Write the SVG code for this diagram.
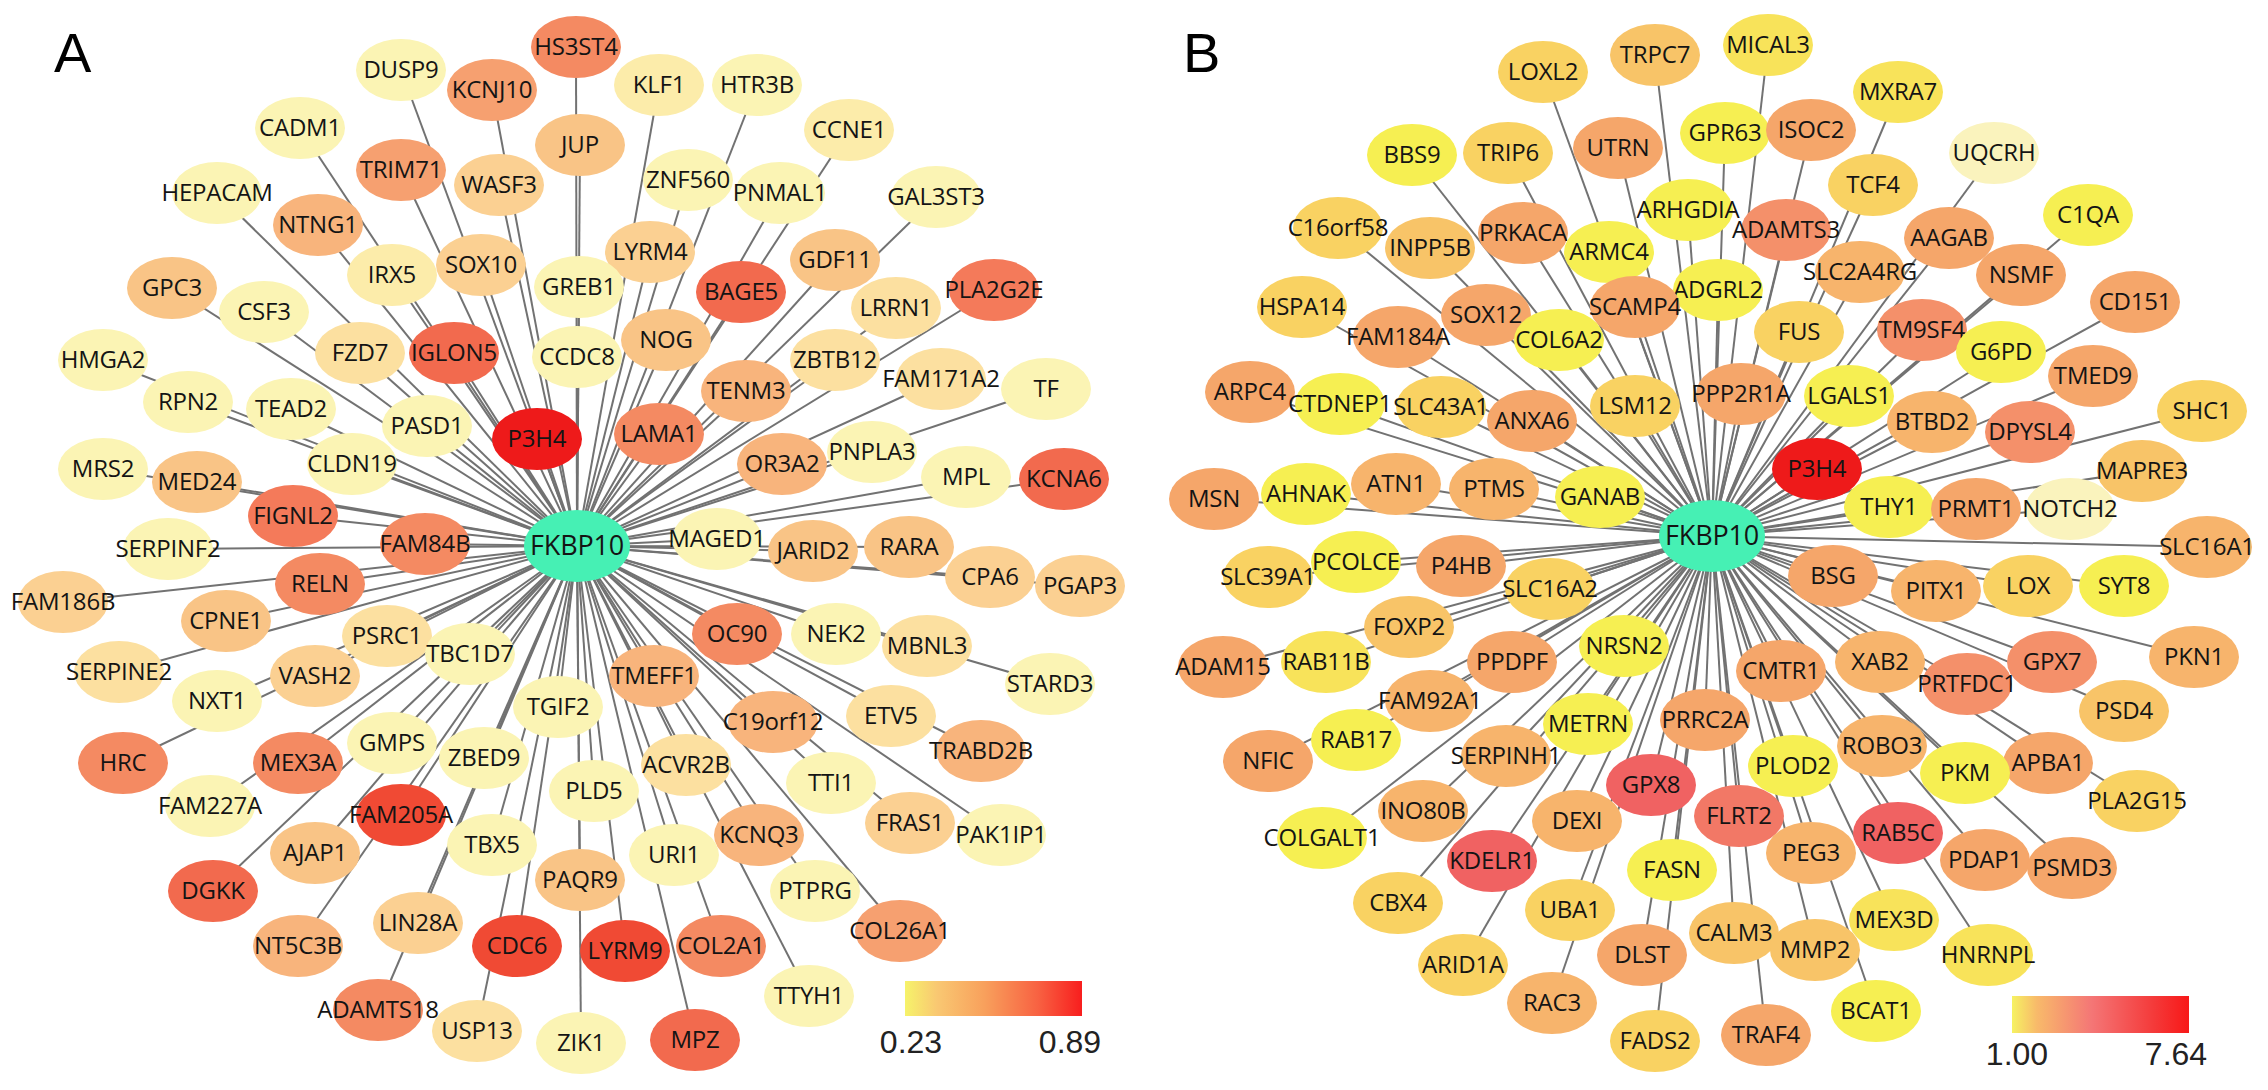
<svg xmlns="http://www.w3.org/2000/svg" width="2268" height="1090" viewBox="0 0 2268 1090">
<defs>
<linearGradient id="gradA" x1="0" y1="0" x2="1" y2="0">
<stop offset="0" stop-color="#f6f36a"/>
<stop offset="0.18" stop-color="#f9c872"/>
<stop offset="0.45" stop-color="#f8a05c"/>
<stop offset="0.75" stop-color="#f86242"/>
<stop offset="1" stop-color="#f81e1e"/>
</linearGradient>
<linearGradient id="gradB" x1="0" y1="0" x2="1" y2="0">
<stop offset="0" stop-color="#f6f262"/>
<stop offset="0.14" stop-color="#f8ba6a"/>
<stop offset="0.45" stop-color="#f47676"/>
<stop offset="0.8" stop-color="#f43a3a"/>
<stop offset="1" stop-color="#f81818"/>
</linearGradient>
</defs>
<style>
.edge line{stroke:#727272;stroke-width:2;}
ellipse{rx:45px;ry:31px;}
ellipse.hub{rx:53px;ry:36px;fill:#46f0b4;}
text{font-family:"Open Sans","Noto Sans",sans-serif;font-size:24px;fill:#141414;text-anchor:middle;letter-spacing:-0.2px;}
text.hubt{font-size:27px;}
text.panel{font-family:"Liberation Sans",Arial,sans-serif;font-size:56px;fill:#000;text-anchor:start;letter-spacing:0;}
text.cb{font-family:"Liberation Sans",Arial,sans-serif;font-size:32px;fill:#222;letter-spacing:0;}
.a0{fill:#fbf4b4}.a1{fill:#fcecaa}.a2{fill:#fce0a0}.a3{fill:#fbd092}.a4{fill:#f9c486}.a5{fill:#f8b47c}.a6{fill:#f6a070}.a7{fill:#f48a62}.a75{fill:#f47a5a}.a8{fill:#f26a4e}.a9{fill:#f04a34}.p3{fill:#ee1a1a}
.b0{fill:#faf3bd}.b1{fill:#f6ef52}.b2{fill:#f8e35a}.b3{fill:#f9d262}.b4{fill:#f8c468}.b5{fill:#f7b46c}.b6{fill:#f5a66a}.b7{fill:#f4906a}.b8{fill:#f06262}.b9{fill:#f27866}
</style>
<rect width="2268" height="1090" fill="#ffffff"/>
<text class="panel" x="54" y="72">A</text>
<text class="panel" x="1183" y="72">B</text>
<g id="edges-A" class="edge">
<line x1="577" y1="546" x2="576" y2="47"/><line x1="577" y1="546" x2="401" y2="70"/><line x1="577" y1="546" x2="492" y2="90"/><line x1="577" y1="546" x2="659" y2="85"/><line x1="577" y1="546" x2="757" y2="85"/><line x1="577" y1="546" x2="300" y2="128"/><line x1="577" y1="546" x2="849" y2="130"/><line x1="577" y1="546" x2="580" y2="145"/><line x1="577" y1="546" x2="401" y2="170"/><line x1="577" y1="546" x2="688" y2="180"/><line x1="577" y1="546" x2="499" y2="185"/><line x1="577" y1="546" x2="217" y2="193"/><line x1="577" y1="546" x2="780" y2="193"/><line x1="577" y1="546" x2="936" y2="197"/><line x1="577" y1="546" x2="318" y2="225"/><line x1="577" y1="546" x2="650" y2="252"/><line x1="577" y1="546" x2="835" y2="260"/><line x1="577" y1="546" x2="481" y2="265"/><line x1="577" y1="546" x2="392" y2="275"/><line x1="577" y1="546" x2="579" y2="287"/><line x1="577" y1="546" x2="172" y2="288"/><line x1="577" y1="546" x2="994" y2="290"/><line x1="577" y1="546" x2="741" y2="292"/><line x1="577" y1="546" x2="896" y2="308"/><line x1="577" y1="546" x2="264" y2="312"/><line x1="577" y1="546" x2="666" y2="340"/><line x1="577" y1="546" x2="360" y2="353"/><line x1="577" y1="546" x2="454" y2="353"/><line x1="577" y1="546" x2="103" y2="360"/><line x1="577" y1="546" x2="577" y2="357"/><line x1="577" y1="546" x2="835" y2="360"/><line x1="577" y1="546" x2="941" y2="379"/><line x1="577" y1="546" x2="1046" y2="389"/><line x1="577" y1="546" x2="746" y2="391"/><line x1="577" y1="546" x2="188" y2="402"/><line x1="577" y1="546" x2="291" y2="409"/><line x1="577" y1="546" x2="427" y2="426"/><line x1="577" y1="546" x2="659" y2="434"/><line x1="577" y1="546" x2="537" y2="439"/><line x1="577" y1="546" x2="872" y2="452"/><line x1="577" y1="546" x2="352" y2="464"/><line x1="577" y1="546" x2="782" y2="464"/><line x1="577" y1="546" x2="103" y2="469"/><line x1="577" y1="546" x2="966" y2="477"/><line x1="577" y1="546" x2="1064" y2="479"/><line x1="577" y1="546" x2="197" y2="482"/><line x1="577" y1="546" x2="293" y2="516"/><line x1="577" y1="546" x2="717" y2="539"/><line x1="577" y1="546" x2="425" y2="544"/><line x1="577" y1="546" x2="909" y2="547"/><line x1="577" y1="546" x2="168" y2="549"/><line x1="577" y1="546" x2="813" y2="551"/><line x1="577" y1="546" x2="990" y2="577"/><line x1="577" y1="546" x2="320" y2="584"/><line x1="577" y1="546" x2="1080" y2="586"/><line x1="577" y1="546" x2="63" y2="602"/><line x1="577" y1="546" x2="226" y2="621"/><line x1="577" y1="546" x2="737" y2="634"/><line x1="577" y1="546" x2="836" y2="634"/><line x1="577" y1="546" x2="387" y2="636"/><line x1="577" y1="546" x2="927" y2="646"/><line x1="577" y1="546" x2="470" y2="654"/><line x1="577" y1="546" x2="119" y2="672"/><line x1="577" y1="546" x2="315" y2="676"/><line x1="577" y1="546" x2="654" y2="676"/><line x1="577" y1="546" x2="1050" y2="684"/><line x1="577" y1="546" x2="217" y2="701"/><line x1="577" y1="546" x2="558" y2="707"/><line x1="577" y1="546" x2="891" y2="716"/><line x1="577" y1="546" x2="773" y2="722"/><line x1="577" y1="546" x2="392" y2="743"/><line x1="577" y1="546" x2="981" y2="751"/><line x1="577" y1="546" x2="484" y2="758"/><line x1="577" y1="546" x2="123" y2="763"/><line x1="577" y1="546" x2="298" y2="763"/><line x1="577" y1="546" x2="686" y2="765"/><line x1="577" y1="546" x2="831" y2="783"/><line x1="577" y1="546" x2="594" y2="791"/><line x1="577" y1="546" x2="210" y2="806"/><line x1="577" y1="546" x2="401" y2="815"/><line x1="577" y1="546" x2="910" y2="823"/><line x1="577" y1="546" x2="759" y2="835"/><line x1="577" y1="546" x2="1001" y2="835"/><line x1="577" y1="546" x2="492" y2="845"/><line x1="577" y1="546" x2="315" y2="853"/><line x1="577" y1="546" x2="674" y2="855"/><line x1="577" y1="546" x2="580" y2="880"/><line x1="577" y1="546" x2="815" y2="891"/><line x1="577" y1="546" x2="213" y2="891"/><line x1="577" y1="546" x2="418" y2="923"/><line x1="577" y1="546" x2="900" y2="931"/><line x1="577" y1="546" x2="298" y2="946"/><line x1="577" y1="546" x2="517" y2="946"/><line x1="577" y1="546" x2="721" y2="946"/><line x1="577" y1="546" x2="625" y2="951"/><line x1="577" y1="546" x2="809" y2="996"/><line x1="577" y1="546" x2="378" y2="1010"/><line x1="577" y1="546" x2="477" y2="1031"/><line x1="577" y1="546" x2="695" y2="1040"/><line x1="577" y1="546" x2="581" y2="1043"/>
</g>
<g id="edges-B" class="edge">
<line x1="1712" y1="536" x2="1543" y2="72"/><line x1="1712" y1="536" x2="1655" y2="55"/><line x1="1712" y1="536" x2="1768" y2="45"/><line x1="1712" y1="536" x2="1898" y2="92"/><line x1="1712" y1="536" x2="1725" y2="133"/><line x1="1712" y1="536" x2="1811" y2="130"/><line x1="1712" y1="536" x2="1412" y2="155"/><line x1="1712" y1="536" x2="1508" y2="153"/><line x1="1712" y1="536" x2="1618" y2="148"/><line x1="1712" y1="536" x2="1994" y2="153"/><line x1="1712" y1="536" x2="1873" y2="185"/><line x1="1712" y1="536" x2="1688" y2="210"/><line x1="1712" y1="536" x2="2088" y2="215"/><line x1="1712" y1="536" x2="1338" y2="228"/><line x1="1712" y1="536" x2="1786" y2="230"/><line x1="1712" y1="536" x2="1523" y2="233"/><line x1="1712" y1="536" x2="1949" y2="238"/><line x1="1712" y1="536" x2="1430" y2="248"/><line x1="1712" y1="536" x2="1609" y2="252"/><line x1="1712" y1="536" x2="1860" y2="272"/><line x1="1712" y1="536" x2="2021" y2="275"/><line x1="1712" y1="536" x2="1718" y2="290"/><line x1="1712" y1="536" x2="2135" y2="302"/><line x1="1712" y1="536" x2="1302" y2="307"/><line x1="1712" y1="536" x2="1635" y2="307"/><line x1="1712" y1="536" x2="1486" y2="315"/><line x1="1712" y1="536" x2="1922" y2="330"/><line x1="1712" y1="536" x2="1799" y2="332"/><line x1="1712" y1="536" x2="1398" y2="337"/><line x1="1712" y1="536" x2="1559" y2="340"/><line x1="1712" y1="536" x2="2001" y2="352"/><line x1="1712" y1="536" x2="2093" y2="376"/><line x1="1712" y1="536" x2="1250" y2="392"/><line x1="1712" y1="536" x2="1741" y2="394"/><line x1="1712" y1="536" x2="1849" y2="396"/><line x1="1712" y1="536" x2="1340" y2="404"/><line x1="1712" y1="536" x2="1635" y2="406"/><line x1="1712" y1="536" x2="1441" y2="407"/><line x1="1712" y1="536" x2="2202" y2="411"/><line x1="1712" y1="536" x2="1532" y2="421"/><line x1="1712" y1="536" x2="1932" y2="422"/><line x1="1712" y1="536" x2="2030" y2="432"/><line x1="1712" y1="536" x2="1817" y2="469"/><line x1="1712" y1="536" x2="2142" y2="471"/><line x1="1712" y1="536" x2="1396" y2="484"/><line x1="1712" y1="536" x2="1494" y2="489"/><line x1="1712" y1="536" x2="1306" y2="494"/><line x1="1712" y1="536" x2="1600" y2="497"/><line x1="1712" y1="536" x2="1214" y2="499"/><line x1="1712" y1="536" x2="1889" y2="507"/><line x1="1712" y1="536" x2="1976" y2="509"/><line x1="1712" y1="536" x2="2070" y2="509"/><line x1="1712" y1="536" x2="2207" y2="547"/><line x1="1712" y1="536" x2="1356" y2="562"/><line x1="1712" y1="536" x2="1461" y2="566"/><line x1="1712" y1="536" x2="1833" y2="576"/><line x1="1712" y1="536" x2="1268" y2="577"/><line x1="1712" y1="536" x2="2028" y2="586"/><line x1="1712" y1="536" x2="2124" y2="586"/><line x1="1712" y1="536" x2="1550" y2="589"/><line x1="1712" y1="536" x2="1936" y2="591"/><line x1="1712" y1="536" x2="1409" y2="627"/><line x1="1712" y1="536" x2="1624" y2="646"/><line x1="1712" y1="536" x2="2194" y2="657"/><line x1="1712" y1="536" x2="1326" y2="662"/><line x1="1712" y1="536" x2="1512" y2="662"/><line x1="1712" y1="536" x2="1880" y2="662"/><line x1="1712" y1="536" x2="2052" y2="662"/><line x1="1712" y1="536" x2="1223" y2="667"/><line x1="1712" y1="536" x2="1781" y2="671"/><line x1="1712" y1="536" x2="1967" y2="684"/><line x1="1712" y1="536" x2="1430" y2="701"/><line x1="1712" y1="536" x2="2124" y2="711"/><line x1="1712" y1="536" x2="1705" y2="720"/><line x1="1712" y1="536" x2="1588" y2="724"/><line x1="1712" y1="536" x2="1356" y2="740"/><line x1="1712" y1="536" x2="1882" y2="746"/><line x1="1712" y1="536" x2="1506" y2="756"/><line x1="1712" y1="536" x2="1268" y2="761"/><line x1="1712" y1="536" x2="2048" y2="763"/><line x1="1712" y1="536" x2="1793" y2="766"/><line x1="1712" y1="536" x2="1965" y2="773"/><line x1="1712" y1="536" x2="1651" y2="785"/><line x1="1712" y1="536" x2="2137" y2="801"/><line x1="1712" y1="536" x2="1423" y2="811"/><line x1="1712" y1="536" x2="1739" y2="816"/><line x1="1712" y1="536" x2="1577" y2="821"/><line x1="1712" y1="536" x2="1898" y2="833"/><line x1="1712" y1="536" x2="1322" y2="838"/><line x1="1712" y1="536" x2="1811" y2="853"/><line x1="1712" y1="536" x2="1985" y2="860"/><line x1="1712" y1="536" x2="1492" y2="861"/><line x1="1712" y1="536" x2="2072" y2="868"/><line x1="1712" y1="536" x2="1672" y2="870"/><line x1="1712" y1="536" x2="1398" y2="903"/><line x1="1712" y1="536" x2="1570" y2="910"/><line x1="1712" y1="536" x2="1894" y2="920"/><line x1="1712" y1="536" x2="1734" y2="933"/><line x1="1712" y1="536" x2="1815" y2="950"/><line x1="1712" y1="536" x2="1642" y2="955"/><line x1="1712" y1="536" x2="1988" y2="955"/><line x1="1712" y1="536" x2="1463" y2="965"/><line x1="1712" y1="536" x2="1552" y2="1003"/><line x1="1712" y1="536" x2="1876" y2="1011"/><line x1="1712" y1="536" x2="1766" y2="1035"/><line x1="1712" y1="536" x2="1655" y2="1041"/>
</g>
<g id="nodes-A">
<g id="a-HS3ST4"><ellipse class="a7" cx="576" cy="47" rx="45" ry="31"/><text x="576" y="55">HS3ST4</text></g>
<g id="a-DUSP9"><ellipse class="a0" cx="401" cy="70" rx="45" ry="31"/><text x="401" y="78">DUSP9</text></g>
<g id="a-KCNJ10"><ellipse class="a6" cx="492" cy="90" rx="45" ry="31"/><text x="492" y="98">KCNJ10</text></g>
<g id="a-KLF1"><ellipse class="a1" cx="659" cy="85" rx="45" ry="31"/><text x="659" y="93">KLF1</text></g>
<g id="a-HTR3B"><ellipse class="a0" cx="757" cy="85" rx="45" ry="31"/><text x="757" y="93">HTR3B</text></g>
<g id="a-CADM1"><ellipse class="a0" cx="300" cy="128" rx="45" ry="31"/><text x="300" y="136">CADM1</text></g>
<g id="a-CCNE1"><ellipse class="a1" cx="849" cy="130" rx="45" ry="31"/><text x="849" y="138">CCNE1</text></g>
<g id="a-JUP"><ellipse class="a4" cx="580" cy="145" rx="45" ry="31"/><text x="580" y="153">JUP</text></g>
<g id="a-TRIM71"><ellipse class="a6" cx="401" cy="170" rx="45" ry="31"/><text x="401" y="178">TRIM71</text></g>
<g id="a-ZNF560"><ellipse class="a0" cx="688" cy="180" rx="45" ry="31"/><text x="688" y="188">ZNF560</text></g>
<g id="a-WASF3"><ellipse class="a3" cx="499" cy="185" rx="45" ry="31"/><text x="499" y="193">WASF3</text></g>
<g id="a-HEPACAM"><ellipse class="a0" cx="217" cy="193" rx="45" ry="31"/><text x="217" y="201">HEPACAM</text></g>
<g id="a-PNMAL1"><ellipse class="a0" cx="780" cy="193" rx="45" ry="31"/><text x="780" y="201">PNMAL1</text></g>
<g id="a-GAL3ST3"><ellipse class="a0" cx="936" cy="197" rx="45" ry="31"/><text x="936" y="205">GAL3ST3</text></g>
<g id="a-NTNG1"><ellipse class="a5" cx="318" cy="225" rx="45" ry="31"/><text x="318" y="233">NTNG1</text></g>
<g id="a-LYRM4"><ellipse class="a3" cx="650" cy="252" rx="45" ry="31"/><text x="650" y="260">LYRM4</text></g>
<g id="a-GDF11"><ellipse class="a4" cx="835" cy="260" rx="45" ry="31"/><text x="835" y="268">GDF11</text></g>
<g id="a-SOX10"><ellipse class="a3" cx="481" cy="265" rx="45" ry="31"/><text x="481" y="273">SOX10</text></g>
<g id="a-IRX5"><ellipse class="a1" cx="392" cy="275" rx="45" ry="31"/><text x="392" y="283">IRX5</text></g>
<g id="a-GREB1"><ellipse class="a0" cx="579" cy="287" rx="45" ry="31"/><text x="579" y="295">GREB1</text></g>
<g id="a-GPC3"><ellipse class="a4" cx="172" cy="288" rx="45" ry="31"/><text x="172" y="296">GPC3</text></g>
<g id="a-PLA2G2E"><ellipse class="a75" cx="994" cy="290" rx="45" ry="31"/><text x="994" y="298">PLA2G2E</text></g>
<g id="a-BAGE5"><ellipse class="a8" cx="741" cy="292" rx="45" ry="31"/><text x="741" y="300">BAGE5</text></g>
<g id="a-LRRN1"><ellipse class="a2" cx="896" cy="308" rx="45" ry="31"/><text x="896" y="316">LRRN1</text></g>
<g id="a-CSF3"><ellipse class="a0" cx="264" cy="312" rx="45" ry="31"/><text x="264" y="320">CSF3</text></g>
<g id="a-NOG"><ellipse class="a4" cx="666" cy="340" rx="45" ry="31"/><text x="666" y="348">NOG</text></g>
<g id="a-FZD7"><ellipse class="a2" cx="360" cy="353" rx="45" ry="31"/><text x="360" y="361">FZD7</text></g>
<g id="a-IGLON5"><ellipse class="a8" cx="454" cy="353" rx="45" ry="31"/><text x="454" y="361">IGLON5</text></g>
<g id="a-HMGA2"><ellipse class="a0" cx="103" cy="360" rx="45" ry="31"/><text x="103" y="368">HMGA2</text></g>
<g id="a-CCDC8"><ellipse class="a0" cx="577" cy="357" rx="45" ry="31"/><text x="577" y="365">CCDC8</text></g>
<g id="a-ZBTB12"><ellipse class="a2" cx="835" cy="360" rx="45" ry="31"/><text x="835" y="368">ZBTB12</text></g>
<g id="a-FAM171A2"><ellipse class="a2" cx="941" cy="379" rx="45" ry="31"/><text x="941" y="387">FAM171A2</text></g>
<g id="a-TF"><ellipse class="a0" cx="1046" cy="389" rx="45" ry="31"/><text x="1046" y="397">TF</text></g>
<g id="a-TENM3"><ellipse class="a5" cx="746" cy="391" rx="45" ry="31"/><text x="746" y="399">TENM3</text></g>
<g id="a-RPN2"><ellipse class="a0" cx="188" cy="402" rx="45" ry="31"/><text x="188" y="410">RPN2</text></g>
<g id="a-TEAD2"><ellipse class="a0" cx="291" cy="409" rx="45" ry="31"/><text x="291" y="417">TEAD2</text></g>
<g id="a-PASD1"><ellipse class="a0" cx="427" cy="426" rx="45" ry="31"/><text x="427" y="434">PASD1</text></g>
<g id="a-LAMA1"><ellipse class="a7" cx="659" cy="434" rx="45" ry="31"/><text x="659" y="442">LAMA1</text></g>
<g id="a-P3H4"><ellipse class="p3" cx="537" cy="439" rx="45" ry="31"/><text x="537" y="447">P3H4</text></g>
<g id="a-PNPLA3"><ellipse class="a0" cx="872" cy="452" rx="45" ry="31"/><text x="872" y="460">PNPLA3</text></g>
<g id="a-CLDN19"><ellipse class="a0" cx="352" cy="464" rx="45" ry="31"/><text x="352" y="472">CLDN19</text></g>
<g id="a-OR3A2"><ellipse class="a5" cx="782" cy="464" rx="45" ry="31"/><text x="782" y="472">OR3A2</text></g>
<g id="a-MRS2"><ellipse class="a0" cx="103" cy="469" rx="45" ry="31"/><text x="103" y="477">MRS2</text></g>
<g id="a-MPL"><ellipse class="a0" cx="966" cy="477" rx="45" ry="31"/><text x="966" y="485">MPL</text></g>
<g id="a-KCNA6"><ellipse class="a8" cx="1064" cy="479" rx="45" ry="31"/><text x="1064" y="487">KCNA6</text></g>
<g id="a-MED24"><ellipse class="a4" cx="197" cy="482" rx="45" ry="31"/><text x="197" y="490">MED24</text></g>
<g id="a-FIGNL2"><ellipse class="a75" cx="293" cy="516" rx="45" ry="31"/><text x="293" y="524">FIGNL2</text></g>
<g id="a-MAGED1"><ellipse class="a0" cx="717" cy="539" rx="45" ry="31"/><text x="717" y="547">MAGED1</text></g>
<g id="a-FAM84B"><ellipse class="a7" cx="425" cy="544" rx="45" ry="31"/><text x="425" y="552">FAM84B</text></g>
<g id="a-RARA"><ellipse class="a4" cx="909" cy="547" rx="45" ry="31"/><text x="909" y="555">RARA</text></g>
<g id="a-SERPINF2"><ellipse class="a0" cx="168" cy="549" rx="45" ry="31"/><text x="168" y="557">SERPINF2</text></g>
<g id="a-JARID2"><ellipse class="a4" cx="813" cy="551" rx="45" ry="31"/><text x="813" y="559">JARID2</text></g>
<g id="a-CPA6"><ellipse class="a3" cx="990" cy="577" rx="45" ry="31"/><text x="990" y="585">CPA6</text></g>
<g id="a-RELN"><ellipse class="a7" cx="320" cy="584" rx="45" ry="31"/><text x="320" y="592">RELN</text></g>
<g id="a-PGAP3"><ellipse class="a3" cx="1080" cy="586" rx="45" ry="31"/><text x="1080" y="594">PGAP3</text></g>
<g id="a-FAM186B"><ellipse class="a3" cx="63" cy="602" rx="45" ry="31"/><text x="63" y="610">FAM186B</text></g>
<g id="a-CPNE1"><ellipse class="a4" cx="226" cy="621" rx="45" ry="31"/><text x="226" y="629">CPNE1</text></g>
<g id="a-OC90"><ellipse class="a7" cx="737" cy="634" rx="45" ry="31"/><text x="737" y="642">OC90</text></g>
<g id="a-NEK2"><ellipse class="a0" cx="836" cy="634" rx="45" ry="31"/><text x="836" y="642">NEK2</text></g>
<g id="a-PSRC1"><ellipse class="a2" cx="387" cy="636" rx="45" ry="31"/><text x="387" y="644">PSRC1</text></g>
<g id="a-MBNL3"><ellipse class="a2" cx="927" cy="646" rx="45" ry="31"/><text x="927" y="654">MBNL3</text></g>
<g id="a-TBC1D7"><ellipse class="a0" cx="470" cy="654" rx="45" ry="31"/><text x="470" y="662">TBC1D7</text></g>
<g id="a-SERPINE2"><ellipse class="a2" cx="119" cy="672" rx="45" ry="31"/><text x="119" y="680">SERPINE2</text></g>
<g id="a-VASH2"><ellipse class="a3" cx="315" cy="676" rx="45" ry="31"/><text x="315" y="684">VASH2</text></g>
<g id="a-TMEFF1"><ellipse class="a5" cx="654" cy="676" rx="45" ry="31"/><text x="654" y="684">TMEFF1</text></g>
<g id="a-STARD3"><ellipse class="a0" cx="1050" cy="684" rx="45" ry="31"/><text x="1050" y="692">STARD3</text></g>
<g id="a-NXT1"><ellipse class="a0" cx="217" cy="701" rx="45" ry="31"/><text x="217" y="709">NXT1</text></g>
<g id="a-TGIF2"><ellipse class="a0" cx="558" cy="707" rx="45" ry="31"/><text x="558" y="715">TGIF2</text></g>
<g id="a-ETV5"><ellipse class="a2" cx="891" cy="716" rx="45" ry="31"/><text x="891" y="724">ETV5</text></g>
<g id="a-C19orf12"><ellipse class="a5" cx="773" cy="722" rx="45" ry="31"/><text x="773" y="730">C19orf12</text></g>
<g id="a-GMPS"><ellipse class="a0" cx="392" cy="743" rx="45" ry="31"/><text x="392" y="751">GMPS</text></g>
<g id="a-TRABD2B"><ellipse class="a5" cx="981" cy="751" rx="45" ry="31"/><text x="981" y="759">TRABD2B</text></g>
<g id="a-ZBED9"><ellipse class="a0" cx="484" cy="758" rx="45" ry="31"/><text x="484" y="766">ZBED9</text></g>
<g id="a-HRC"><ellipse class="a7" cx="123" cy="763" rx="45" ry="31"/><text x="123" y="771">HRC</text></g>
<g id="a-MEX3A"><ellipse class="a7" cx="298" cy="763" rx="45" ry="31"/><text x="298" y="771">MEX3A</text></g>
<g id="a-ACVR2B"><ellipse class="a2" cx="686" cy="765" rx="45" ry="31"/><text x="686" y="773">ACVR2B</text></g>
<g id="a-TTI1"><ellipse class="a0" cx="831" cy="783" rx="45" ry="31"/><text x="831" y="791">TTI1</text></g>
<g id="a-PLD5"><ellipse class="a0" cx="594" cy="791" rx="45" ry="31"/><text x="594" y="799">PLD5</text></g>
<g id="a-FAM227A"><ellipse class="a0" cx="210" cy="806" rx="45" ry="31"/><text x="210" y="814">FAM227A</text></g>
<g id="a-FAM205A"><ellipse class="a9" cx="401" cy="815" rx="45" ry="31"/><text x="401" y="823">FAM205A</text></g>
<g id="a-FRAS1"><ellipse class="a3" cx="910" cy="823" rx="45" ry="31"/><text x="910" y="831">FRAS1</text></g>
<g id="a-KCNQ3"><ellipse class="a5" cx="759" cy="835" rx="45" ry="31"/><text x="759" y="843">KCNQ3</text></g>
<g id="a-PAK1IP1"><ellipse class="a0" cx="1001" cy="835" rx="45" ry="31"/><text x="1001" y="843">PAK1IP1</text></g>
<g id="a-TBX5"><ellipse class="a0" cx="492" cy="845" rx="45" ry="31"/><text x="492" y="853">TBX5</text></g>
<g id="a-AJAP1"><ellipse class="a4" cx="315" cy="853" rx="45" ry="31"/><text x="315" y="861">AJAP1</text></g>
<g id="a-URI1"><ellipse class="a0" cx="674" cy="855" rx="45" ry="31"/><text x="674" y="863">URI1</text></g>
<g id="a-PAQR9"><ellipse class="a4" cx="580" cy="880" rx="45" ry="31"/><text x="580" y="888">PAQR9</text></g>
<g id="a-PTPRG"><ellipse class="a0" cx="815" cy="891" rx="45" ry="31"/><text x="815" y="899">PTPRG</text></g>
<g id="a-DGKK"><ellipse class="a8" cx="213" cy="891" rx="45" ry="31"/><text x="213" y="899">DGKK</text></g>
<g id="a-LIN28A"><ellipse class="a3" cx="418" cy="923" rx="45" ry="31"/><text x="418" y="931">LIN28A</text></g>
<g id="a-COL26A1"><ellipse class="a6" cx="900" cy="931" rx="45" ry="31"/><text x="900" y="939">COL26A1</text></g>
<g id="a-NT5C3B"><ellipse class="a5" cx="298" cy="946" rx="45" ry="31"/><text x="298" y="954">NT5C3B</text></g>
<g id="a-CDC6"><ellipse class="a9" cx="517" cy="946" rx="45" ry="31"/><text x="517" y="954">CDC6</text></g>
<g id="a-COL2A1"><ellipse class="a7" cx="721" cy="946" rx="45" ry="31"/><text x="721" y="954">COL2A1</text></g>
<g id="a-LYRM9"><ellipse class="a9" cx="625" cy="951" rx="45" ry="31"/><text x="625" y="959">LYRM9</text></g>
<g id="a-TTYH1"><ellipse class="a0" cx="809" cy="996" rx="45" ry="31"/><text x="809" y="1004">TTYH1</text></g>
<g id="a-ADAMTS18"><ellipse class="a7" cx="378" cy="1010" rx="45" ry="31"/><text x="378" y="1018">ADAMTS18</text></g>
<g id="a-USP13"><ellipse class="a2" cx="477" cy="1031" rx="45" ry="31"/><text x="477" y="1039">USP13</text></g>
<g id="a-MPZ"><ellipse class="a8" cx="695" cy="1040" rx="45" ry="31"/><text x="695" y="1048">MPZ</text></g>
<g id="a-ZIK1"><ellipse class="a0" cx="581" cy="1043" rx="45" ry="31"/><text x="581" y="1051">ZIK1</text></g>
<g id="a-FKBP10"><ellipse class="hub" cx="577" cy="546" rx="53" ry="36"/><text class="hubt" x="577" y="555">FKBP10</text></g>
</g>
<g id="nodes-B">
<g id="b-LOXL2"><ellipse class="b3" cx="1543" cy="72" rx="45" ry="31"/><text x="1543" y="80">LOXL2</text></g>
<g id="b-TRPC7"><ellipse class="b4" cx="1655" cy="55" rx="45" ry="31"/><text x="1655" y="63">TRPC7</text></g>
<g id="b-MICAL3"><ellipse class="b2" cx="1768" cy="45" rx="45" ry="31"/><text x="1768" y="53">MICAL3</text></g>
<g id="b-MXRA7"><ellipse class="b2" cx="1898" cy="92" rx="45" ry="31"/><text x="1898" y="100">MXRA7</text></g>
<g id="b-GPR63"><ellipse class="b1" cx="1725" cy="133" rx="45" ry="31"/><text x="1725" y="141">GPR63</text></g>
<g id="b-ISOC2"><ellipse class="b6" cx="1811" cy="130" rx="45" ry="31"/><text x="1811" y="138">ISOC2</text></g>
<g id="b-BBS9"><ellipse class="b1" cx="1412" cy="155" rx="45" ry="31"/><text x="1412" y="163">BBS9</text></g>
<g id="b-TRIP6"><ellipse class="b3" cx="1508" cy="153" rx="45" ry="31"/><text x="1508" y="161">TRIP6</text></g>
<g id="b-UTRN"><ellipse class="b6" cx="1618" cy="148" rx="45" ry="31"/><text x="1618" y="156">UTRN</text></g>
<g id="b-UQCRH"><ellipse class="b0" cx="1994" cy="153" rx="45" ry="31"/><text x="1994" y="161">UQCRH</text></g>
<g id="b-TCF4"><ellipse class="b3" cx="1873" cy="185" rx="45" ry="31"/><text x="1873" y="193">TCF4</text></g>
<g id="b-ARHGDIA"><ellipse class="b1" cx="1688" cy="210" rx="45" ry="31"/><text x="1688" y="218">ARHGDIA</text></g>
<g id="b-C1QA"><ellipse class="b1" cx="2088" cy="215" rx="45" ry="31"/><text x="2088" y="223">C1QA</text></g>
<g id="b-C16orf58"><ellipse class="b3" cx="1338" cy="228" rx="45" ry="31"/><text x="1338" y="236">C16orf58</text></g>
<g id="b-ADAMTS3"><ellipse class="b7" cx="1786" cy="230" rx="45" ry="31"/><text x="1786" y="238">ADAMTS3</text></g>
<g id="b-PRKACA"><ellipse class="b6" cx="1523" cy="233" rx="45" ry="31"/><text x="1523" y="241">PRKACA</text></g>
<g id="b-AAGAB"><ellipse class="b6" cx="1949" cy="238" rx="45" ry="31"/><text x="1949" y="246">AAGAB</text></g>
<g id="b-INPP5B"><ellipse class="b4" cx="1430" cy="248" rx="45" ry="31"/><text x="1430" y="256">INPP5B</text></g>
<g id="b-ARMC4"><ellipse class="b1" cx="1609" cy="252" rx="45" ry="31"/><text x="1609" y="260">ARMC4</text></g>
<g id="b-SLC2A4RG"><ellipse class="b5" cx="1860" cy="272" rx="45" ry="31"/><text x="1860" y="280">SLC2A4RG</text></g>
<g id="b-NSMF"><ellipse class="b6" cx="2021" cy="275" rx="45" ry="31"/><text x="2021" y="283">NSMF</text></g>
<g id="b-ADGRL2"><ellipse class="b1" cx="1718" cy="290" rx="45" ry="31"/><text x="1718" y="298">ADGRL2</text></g>
<g id="b-CD151"><ellipse class="b6" cx="2135" cy="302" rx="45" ry="31"/><text x="2135" y="310">CD151</text></g>
<g id="b-HSPA14"><ellipse class="b3" cx="1302" cy="307" rx="45" ry="31"/><text x="1302" y="315">HSPA14</text></g>
<g id="b-SCAMP4"><ellipse class="b6" cx="1635" cy="307" rx="45" ry="31"/><text x="1635" y="315">SCAMP4</text></g>
<g id="b-SOX12"><ellipse class="b6" cx="1486" cy="315" rx="45" ry="31"/><text x="1486" y="323">SOX12</text></g>
<g id="b-TM9SF4"><ellipse class="b7" cx="1922" cy="330" rx="45" ry="31"/><text x="1922" y="338">TM9SF4</text></g>
<g id="b-FUS"><ellipse class="b3" cx="1799" cy="332" rx="45" ry="31"/><text x="1799" y="340">FUS</text></g>
<g id="b-FAM184A"><ellipse class="b6" cx="1398" cy="337" rx="45" ry="31"/><text x="1398" y="345">FAM184A</text></g>
<g id="b-COL6A2"><ellipse class="b1" cx="1559" cy="340" rx="45" ry="31"/><text x="1559" y="348">COL6A2</text></g>
<g id="b-G6PD"><ellipse class="b1" cx="2001" cy="352" rx="45" ry="31"/><text x="2001" y="360">G6PD</text></g>
<g id="b-TMED9"><ellipse class="b6" cx="2093" cy="376" rx="45" ry="31"/><text x="2093" y="384">TMED9</text></g>
<g id="b-ARPC4"><ellipse class="b6" cx="1250" cy="392" rx="45" ry="31"/><text x="1250" y="400">ARPC4</text></g>
<g id="b-PPP2R1A"><ellipse class="b6" cx="1741" cy="394" rx="45" ry="31"/><text x="1741" y="402">PPP2R1A</text></g>
<g id="b-LGALS1"><ellipse class="b1" cx="1849" cy="396" rx="45" ry="31"/><text x="1849" y="404">LGALS1</text></g>
<g id="b-CTDNEP1"><ellipse class="b1" cx="1340" cy="404" rx="45" ry="31"/><text x="1340" y="412">CTDNEP1</text></g>
<g id="b-LSM12"><ellipse class="b3" cx="1635" cy="406" rx="45" ry="31"/><text x="1635" y="414">LSM12</text></g>
<g id="b-SLC43A1"><ellipse class="b3" cx="1441" cy="407" rx="45" ry="31"/><text x="1441" y="415">SLC43A1</text></g>
<g id="b-SHC1"><ellipse class="b3" cx="2202" cy="411" rx="45" ry="31"/><text x="2202" y="419">SHC1</text></g>
<g id="b-ANXA6"><ellipse class="b6" cx="1532" cy="421" rx="45" ry="31"/><text x="1532" y="429">ANXA6</text></g>
<g id="b-BTBD2"><ellipse class="b5" cx="1932" cy="422" rx="45" ry="31"/><text x="1932" y="430">BTBD2</text></g>
<g id="b-DPYSL4"><ellipse class="b7" cx="2030" cy="432" rx="45" ry="31"/><text x="2030" y="440">DPYSL4</text></g>
<g id="b-P3H4"><ellipse class="p3" cx="1817" cy="469" rx="45" ry="31"/><text x="1817" y="477">P3H4</text></g>
<g id="b-MAPRE3"><ellipse class="b4" cx="2142" cy="471" rx="45" ry="31"/><text x="2142" y="479">MAPRE3</text></g>
<g id="b-ATN1"><ellipse class="b5" cx="1396" cy="484" rx="45" ry="31"/><text x="1396" y="492">ATN1</text></g>
<g id="b-PTMS"><ellipse class="b5" cx="1494" cy="489" rx="45" ry="31"/><text x="1494" y="497">PTMS</text></g>
<g id="b-AHNAK"><ellipse class="b1" cx="1306" cy="494" rx="45" ry="31"/><text x="1306" y="502">AHNAK</text></g>
<g id="b-GANAB"><ellipse class="b1" cx="1600" cy="497" rx="45" ry="31"/><text x="1600" y="505">GANAB</text></g>
<g id="b-MSN"><ellipse class="b6" cx="1214" cy="499" rx="45" ry="31"/><text x="1214" y="507">MSN</text></g>
<g id="b-THY1"><ellipse class="b1" cx="1889" cy="507" rx="45" ry="31"/><text x="1889" y="515">THY1</text></g>
<g id="b-PRMT1"><ellipse class="b6" cx="1976" cy="509" rx="45" ry="31"/><text x="1976" y="517">PRMT1</text></g>
<g id="b-NOTCH2"><ellipse class="b0" cx="2070" cy="509" rx="45" ry="31"/><text x="2070" y="517">NOTCH2</text></g>
<g id="b-SLC16A1"><ellipse class="b5" cx="2207" cy="547" rx="45" ry="31"/><text x="2207" y="555">SLC16A1</text></g>
<g id="b-PCOLCE"><ellipse class="b1" cx="1356" cy="562" rx="45" ry="31"/><text x="1356" y="570">PCOLCE</text></g>
<g id="b-P4HB"><ellipse class="b6" cx="1461" cy="566" rx="45" ry="31"/><text x="1461" y="574">P4HB</text></g>
<g id="b-BSG"><ellipse class="b6" cx="1833" cy="576" rx="45" ry="31"/><text x="1833" y="584">BSG</text></g>
<g id="b-SLC39A1"><ellipse class="b3" cx="1268" cy="577" rx="45" ry="31"/><text x="1268" y="585">SLC39A1</text></g>
<g id="b-LOX"><ellipse class="b3" cx="2028" cy="586" rx="45" ry="31"/><text x="2028" y="594">LOX</text></g>
<g id="b-SYT8"><ellipse class="b1" cx="2124" cy="586" rx="45" ry="31"/><text x="2124" y="594">SYT8</text></g>
<g id="b-SLC16A2"><ellipse class="b3" cx="1550" cy="589" rx="45" ry="31"/><text x="1550" y="597">SLC16A2</text></g>
<g id="b-PITX1"><ellipse class="b5" cx="1936" cy="591" rx="45" ry="31"/><text x="1936" y="599">PITX1</text></g>
<g id="b-FOXP2"><ellipse class="b4" cx="1409" cy="627" rx="45" ry="31"/><text x="1409" y="635">FOXP2</text></g>
<g id="b-NRSN2"><ellipse class="b1" cx="1624" cy="646" rx="45" ry="31"/><text x="1624" y="654">NRSN2</text></g>
<g id="b-PKN1"><ellipse class="b5" cx="2194" cy="657" rx="45" ry="31"/><text x="2194" y="665">PKN1</text></g>
<g id="b-RAB11B"><ellipse class="b2" cx="1326" cy="662" rx="45" ry="31"/><text x="1326" y="670">RAB11B</text></g>
<g id="b-PPDPF"><ellipse class="b6" cx="1512" cy="662" rx="45" ry="31"/><text x="1512" y="670">PPDPF</text></g>
<g id="b-XAB2"><ellipse class="b5" cx="1880" cy="662" rx="45" ry="31"/><text x="1880" y="670">XAB2</text></g>
<g id="b-GPX7"><ellipse class="b7" cx="2052" cy="662" rx="45" ry="31"/><text x="2052" y="670">GPX7</text></g>
<g id="b-ADAM15"><ellipse class="b6" cx="1223" cy="667" rx="45" ry="31"/><text x="1223" y="675">ADAM15</text></g>
<g id="b-CMTR1"><ellipse class="b6" cx="1781" cy="671" rx="45" ry="31"/><text x="1781" y="679">CMTR1</text></g>
<g id="b-PRTFDC1"><ellipse class="b7" cx="1967" cy="684" rx="45" ry="31"/><text x="1967" y="692">PRTFDC1</text></g>
<g id="b-FAM92A1"><ellipse class="b5" cx="1430" cy="701" rx="45" ry="31"/><text x="1430" y="709">FAM92A1</text></g>
<g id="b-PSD4"><ellipse class="b4" cx="2124" cy="711" rx="45" ry="31"/><text x="2124" y="719">PSD4</text></g>
<g id="b-PRRC2A"><ellipse class="b6" cx="1705" cy="720" rx="45" ry="31"/><text x="1705" y="728">PRRC2A</text></g>
<g id="b-METRN"><ellipse class="b1" cx="1588" cy="724" rx="45" ry="31"/><text x="1588" y="732">METRN</text></g>
<g id="b-RAB17"><ellipse class="b1" cx="1356" cy="740" rx="45" ry="31"/><text x="1356" y="748">RAB17</text></g>
<g id="b-ROBO3"><ellipse class="b5" cx="1882" cy="746" rx="45" ry="31"/><text x="1882" y="754">ROBO3</text></g>
<g id="b-SERPINH1"><ellipse class="b5" cx="1506" cy="756" rx="45" ry="31"/><text x="1506" y="764">SERPINH1</text></g>
<g id="b-NFIC"><ellipse class="b6" cx="1268" cy="761" rx="45" ry="31"/><text x="1268" y="769">NFIC</text></g>
<g id="b-APBA1"><ellipse class="b6" cx="2048" cy="763" rx="45" ry="31"/><text x="2048" y="771">APBA1</text></g>
<g id="b-PLOD2"><ellipse class="b1" cx="1793" cy="766" rx="45" ry="31"/><text x="1793" y="774">PLOD2</text></g>
<g id="b-PKM"><ellipse class="b1" cx="1965" cy="773" rx="45" ry="31"/><text x="1965" y="781">PKM</text></g>
<g id="b-GPX8"><ellipse class="b8" cx="1651" cy="785" rx="45" ry="31"/><text x="1651" y="793">GPX8</text></g>
<g id="b-PLA2G15"><ellipse class="b3" cx="2137" cy="801" rx="45" ry="31"/><text x="2137" y="809">PLA2G15</text></g>
<g id="b-INO80B"><ellipse class="b5" cx="1423" cy="811" rx="45" ry="31"/><text x="1423" y="819">INO80B</text></g>
<g id="b-FLRT2"><ellipse class="b9" cx="1739" cy="816" rx="45" ry="31"/><text x="1739" y="824">FLRT2</text></g>
<g id="b-DEXI"><ellipse class="b5" cx="1577" cy="821" rx="45" ry="31"/><text x="1577" y="829">DEXI</text></g>
<g id="b-RAB5C"><ellipse class="b8" cx="1898" cy="833" rx="45" ry="31"/><text x="1898" y="841">RAB5C</text></g>
<g id="b-COLGALT1"><ellipse class="b1" cx="1322" cy="838" rx="45" ry="31"/><text x="1322" y="846">COLGALT1</text></g>
<g id="b-PEG3"><ellipse class="b5" cx="1811" cy="853" rx="45" ry="31"/><text x="1811" y="861">PEG3</text></g>
<g id="b-PDAP1"><ellipse class="b6" cx="1985" cy="860" rx="45" ry="31"/><text x="1985" y="868">PDAP1</text></g>
<g id="b-KDELR1"><ellipse class="b8" cx="1492" cy="861" rx="45" ry="31"/><text x="1492" y="869">KDELR1</text></g>
<g id="b-PSMD3"><ellipse class="b6" cx="2072" cy="868" rx="45" ry="31"/><text x="2072" y="876">PSMD3</text></g>
<g id="b-FASN"><ellipse class="b1" cx="1672" cy="870" rx="45" ry="31"/><text x="1672" y="878">FASN</text></g>
<g id="b-CBX4"><ellipse class="b3" cx="1398" cy="903" rx="45" ry="31"/><text x="1398" y="911">CBX4</text></g>
<g id="b-UBA1"><ellipse class="b3" cx="1570" cy="910" rx="45" ry="31"/><text x="1570" y="918">UBA1</text></g>
<g id="b-MEX3D"><ellipse class="b2" cx="1894" cy="920" rx="45" ry="31"/><text x="1894" y="928">MEX3D</text></g>
<g id="b-CALM3"><ellipse class="b4" cx="1734" cy="933" rx="45" ry="31"/><text x="1734" y="941">CALM3</text></g>
<g id="b-MMP2"><ellipse class="b4" cx="1815" cy="950" rx="45" ry="31"/><text x="1815" y="958">MMP2</text></g>
<g id="b-DLST"><ellipse class="b6" cx="1642" cy="955" rx="45" ry="31"/><text x="1642" y="963">DLST</text></g>
<g id="b-HNRNPL"><ellipse class="b2" cx="1988" cy="955" rx="45" ry="31"/><text x="1988" y="963">HNRNPL</text></g>
<g id="b-ARID1A"><ellipse class="b3" cx="1463" cy="965" rx="45" ry="31"/><text x="1463" y="973">ARID1A</text></g>
<g id="b-RAC3"><ellipse class="b5" cx="1552" cy="1003" rx="45" ry="31"/><text x="1552" y="1011">RAC3</text></g>
<g id="b-BCAT1"><ellipse class="b1" cx="1876" cy="1011" rx="45" ry="31"/><text x="1876" y="1019">BCAT1</text></g>
<g id="b-TRAF4"><ellipse class="b6" cx="1766" cy="1035" rx="45" ry="31"/><text x="1766" y="1043">TRAF4</text></g>
<g id="b-FADS2"><ellipse class="b3" cx="1655" cy="1041" rx="45" ry="31"/><text x="1655" y="1049">FADS2</text></g>
<g id="b-FKBP10"><ellipse class="hub" cx="1712" cy="536" rx="53" ry="36"/><text class="hubt" x="1712" y="545">FKBP10</text></g>
</g>
<g id="legend-A">
<rect x="905" y="981" width="177" height="35" fill="url(#gradA)"/>
<text class="cb" x="911" y="1053">0.23</text>
<text class="cb" x="1070" y="1053">0.89</text>
</g>
<g id="legend-B">
<rect x="2012" y="996" width="177" height="37" fill="url(#gradB)"/>
<text class="cb" x="2017" y="1065">1.00</text>
<text class="cb" x="2176" y="1065">7.64</text>
</g>
</svg>
